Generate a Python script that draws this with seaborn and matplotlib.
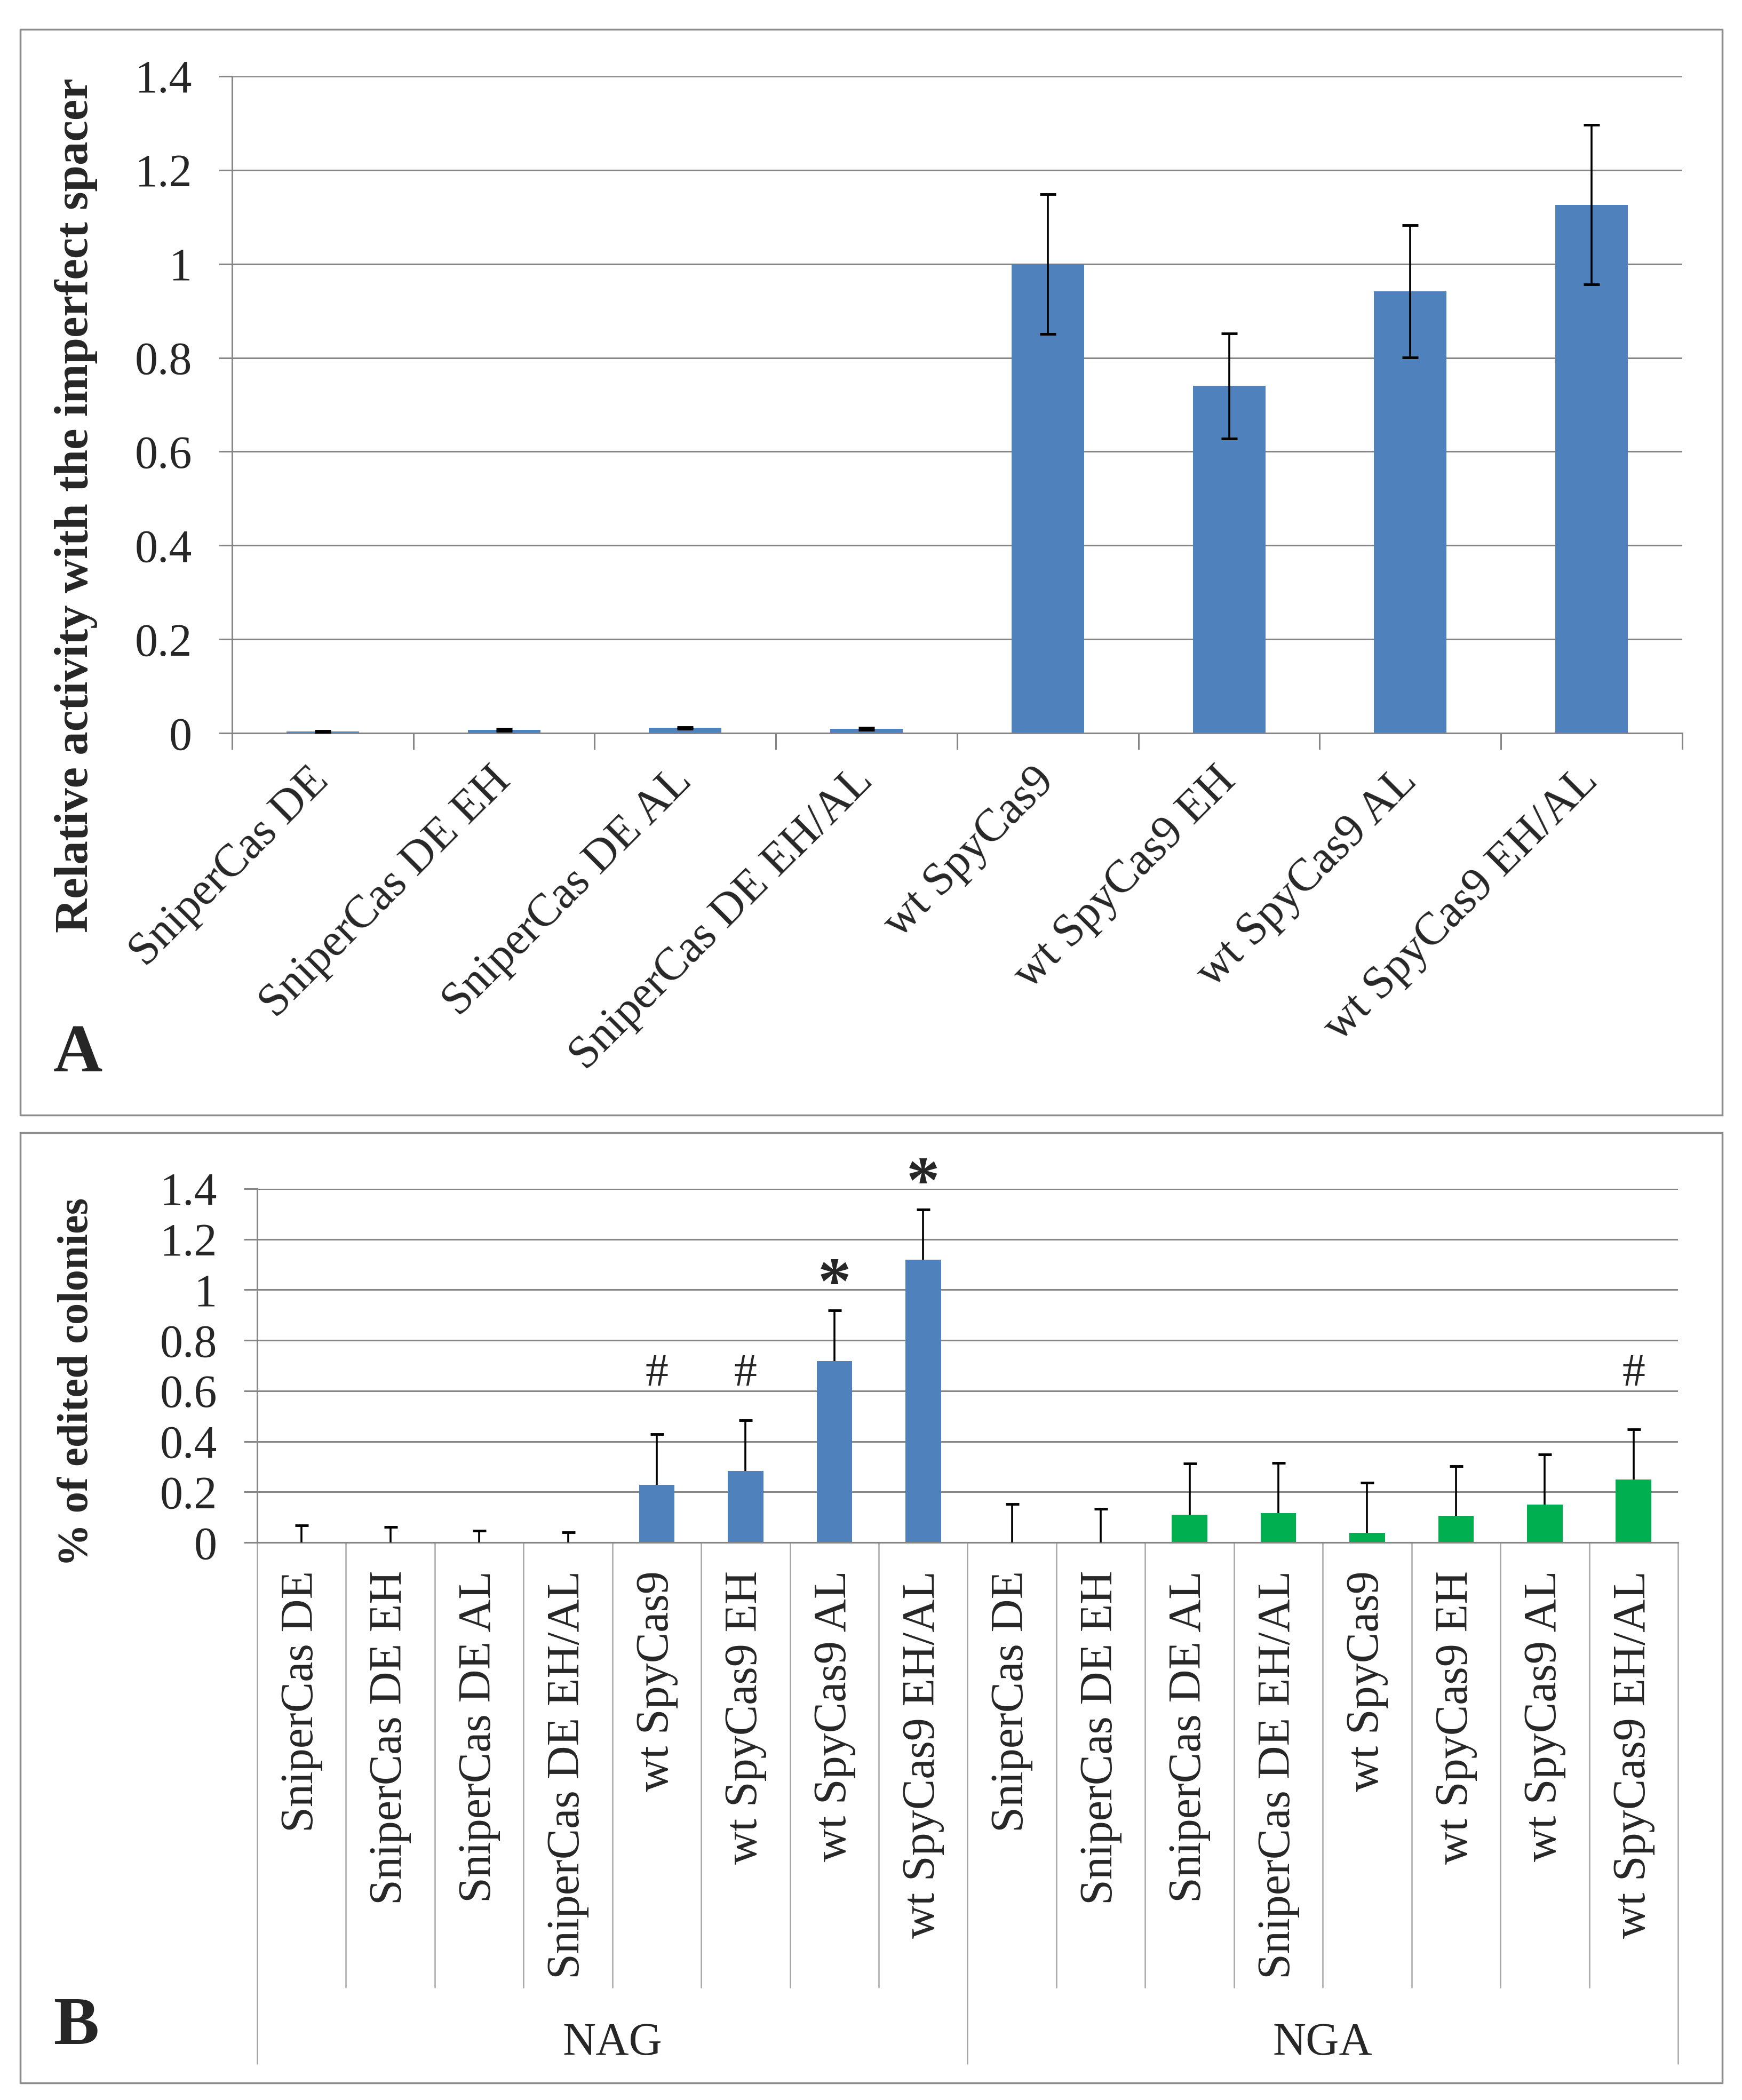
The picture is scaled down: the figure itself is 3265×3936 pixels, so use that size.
import numpy as np
import pandas as pd
import seaborn as sns
import matplotlib.pyplot as plt
from matplotlib.patches import Rectangle

# Panel A: relative activity with the imperfect spacer
variants = ['SniperCas DE', 'SniperCas DE EH', 'SniperCas DE AL', 'SniperCas DE EH/AL',
            'wt SpyCas9', 'wt SpyCas9 EH', 'wt SpyCas9 AL', 'wt SpyCas9 EH/AL']
activity = [0.003, 0.007, 0.011, 0.009, 1.0, 0.74, 0.942, 1.126]
activity_err = [0.001, 0.002, 0.002, 0.002, 0.149, 0.112, 0.141, 0.170]

# Panel B: % of edited colonies, per PAM
pams = ['NAG', 'NGA']
nag_edited = [0, 0, 0, 0, 0.227, 0.283, 0.719, 1.119]
nag_err = [0.068, 0.062, 0.046, 0.041, 0.202, 0.201, 0.199, 0.199]
nga_edited = [0, 0, 0.110, 0.116, 0.038, 0.105, 0.150, 0.249]
nga_err = [0.152, 0.134, 0.202, 0.198, 0.198, 0.198, 0.199, 0.199]
marks_b = ['', '', '', '', '#', '#', '*', '*', '', '', '', '', '', '', '', '#']

yticks = [0, 0.2, 0.4, 0.6, 0.8, 1.0, 1.2, 1.4]
ytick_labels = ['0', '0.2', '0.4', '0.6', '0.8', '1', '1.2', '1.4']

BLUE = '#4F81BD'
GREEN = '#00B050'
GRID = '#868686'
SEP = '#A6A6A6'
BOX = '#8C8C8C'
FS = 62

sns.set_style('white')
plt.rcParams['font.family'] = ['Liberation Serif', 'DejaVu Serif']

W, H = 3266, 3936
fig = plt.figure(figsize=(W / 100, H / 100), dpi=100)


def px_axes(left, top, right, bottom):
    return fig.add_axes([left / W, 1 - bottom / H, (right - left) / W, (bottom - top) / H])


def style_y(ax, pad):
    ax.set_ylim(0, 1.4)
    ax.set_yticks(yticks)
    ax.set_yticklabels(ytick_labels, fontsize=FS)
    ax.yaxis.grid(True, color=GRID, lw=2.2)
    ax.set_axisbelow(True)
    ax.tick_params(axis='y', length=18, width=2.2, color=GRID, pad=pad, left=True)
    for s in ['top', 'right']:
        ax.spines[s].set_visible(False)
    for s in ['left', 'bottom']:
        ax.spines[s].set_color(GRID)
        ax.spines[s].set_linewidth(2.2)
    ax.set_xlabel('')
    ax.set_ylabel('')


# ---- Panel A ----
axA = px_axes(435, 143, 3153, 1374)
dfA = pd.DataFrame({'Variant': variants, 'Activity': activity})
sns.barplot(data=dfA, x='Variant', y='Activity', color=BLUE, width=0.4,
            saturation=1, errorbar=None, linewidth=0, ax=axA)
axA.errorbar(np.arange(len(variants)), activity, yerr=activity_err, fmt='none',
             ecolor='black', elinewidth=2.6, capsize=11, capthick=3.5, zorder=3)
axA.set_xlim(-0.5, len(variants) - 0.5)
style_y(axA, 36)
axA.set_xticks(np.arange(len(variants)))
axA.set_xticklabels(variants, fontsize=FS, rotation=45, ha='right', va='center',
                    rotation_mode='anchor')
axA.set_xticks(np.arange(-0.5, len(variants)), minor=True)
axA.tick_params(axis='x', which='major', length=0, pad=56)
axA.tick_params(axis='x', which='minor', length=22, width=2.2, color=GRID, bottom=True)

fig.text(143 / W, 1 - 947 / H, 'Relative activity with the imperfect spacer',
         rotation=90, ha='center', va='center', fontsize=64, fontweight='bold')

# ---- Panel B ----
axB = px_axes(482, 2228, 3145, 2891)
dfB = pd.DataFrame({
    'PAM': np.repeat(pams, len(variants)),
    'Variant': variants * 2,
    'Edited': nag_edited + nga_edited,
    'Err': nag_err + nga_err,
})
dfB['Key'] = dfB['PAM'] + ' ' + dfB['Variant']
sns.barplot(data=dfB, x='Key', y='Edited', hue='PAM', palette=[BLUE, GREEN],
            dodge=False, width=0.4, saturation=1, errorbar=None, linewidth=0,
            legend=False, ax=axB)
xb = np.arange(len(dfB))
eb = axB.errorbar(xb, dfB['Edited'], yerr=[np.zeros(len(dfB)), dfB['Err']], fmt='none',
                  ecolor='black', elinewidth=2.6, capsize=9, capthick=3.5, zorder=3)
for cap in eb[1]:
    if np.allclose(cap.get_ydata(), dfB['Edited']):
        cap.set_visible(False)
axB.set_xlim(-0.5, len(dfB) - 0.5)
style_y(axB, 36)
axB.set_xticks(xb)
axB.set_xticklabels(dfB['Variant'], fontsize=FS, rotation=90, ha='center', va='top')
axB.tick_params(axis='x', length=0, pad=38)

# significance marks
tops = dfB['Edited'] + dfB['Err']
for x, m, top in zip(xb, marks_b, tops):
    if m == '#':
        axB.text(x, 0.62, m, ha='center', va='baseline', fontsize=FS)
    elif m == '*':
        axB.text(x, top + 0.03, m, ha='center', va='baseline', fontsize=90,
                 fontweight='bold', clip_on=False)

# category table lines and group labels below the axis
trans = axB.get_xaxis_transform()
n_per = len(variants)
for b in np.arange(-0.5, len(dfB)):
    bottom = -1.474 if (b + 0.5) % n_per == 0 else -1.258
    axB.plot([b, b], [0, bottom], transform=trans, color=SEP, lw=1.8, clip_on=False)
for i, pam in enumerate(pams):
    axB.text(i * n_per + (n_per - 1) / 2, -1.416, pam, transform=trans,
             ha='center', va='center', fontsize=FS)

fig.text(145 / W, 1 - 2590 / H, '% of edited colonies', rotation=90,
         ha='center', va='center', fontsize=58, fontweight='bold')

# panel frames and letters
for top, bottom in [(55, 2090), (2123, 3904)]:
    fig.add_artist(Rectangle((38 / W, 1 - bottom / H), (3228 - 38) / W, (bottom - top) / H,
                             transform=fig.transFigure, fill=False, ec=BOX, lw=2.5))
fig.text(146 / W, 1 - 2008 / H, 'A', ha='center', va='baseline', fontsize=92, fontweight='bold')
fig.text(144 / W, 1 - 3831 / H, 'B', ha='center', va='baseline', fontsize=92, fontweight='bold')

fig.savefig('out.png', dpi=100, facecolor='white')
